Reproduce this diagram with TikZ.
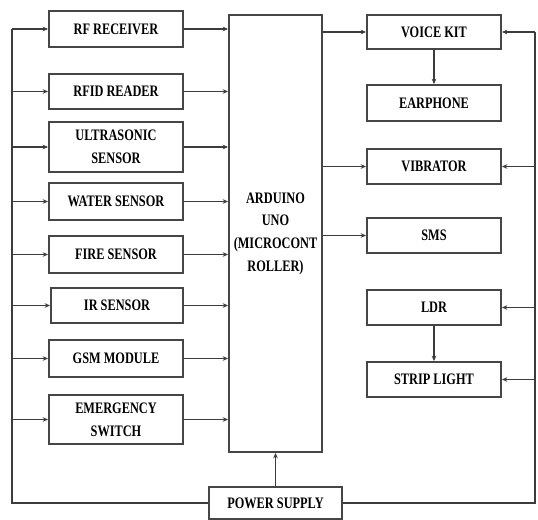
\documentclass[tikz,border=0pt]{standalone}
\usepackage{fontspec}
\setmainfont{Liberation Serif}
\newfontfamily\blockfont{Liberation Serif Bold}[FakeStretch=0.77]
\usepackage{xcolor}
\usepackage{tikz}
\usetikzlibrary{calc,arrows.meta}
\definecolor{edge}{RGB}{60, 60, 60}
\definecolor{frame}{RGB}{70, 70, 70}

\tikzset{
  block/.style={draw=frame, line width=1.5pt, align=center, inner sep=0pt,
    font=\blockfont\fontsize{12}{17}\selectfont},
  wire/.style={draw=edge, line width=1.3pt}
}

\begin{document}
\begin{tikzpicture}[x=0.75pt, y=-0.75pt, >={Stealth[length=4pt,width=3.5pt]}]
  \useasboundingbox (0,0) rectangle (538,520);

  % Input blocks (left column)
  \node[block, minimum width=100.5pt, minimum height=27pt] (rf) at (116, 29) {RF RECEIVER};
  \node[block, minimum width=100.5pt, minimum height=26.25pt] (rfid) at (116, 91.5) {RFID READER};
  \node[block, minimum width=100.5pt, minimum height=37.5pt] (us) at (116, 147) {ULTRASONIC\\SENSOR};
  \node[block, minimum width=100.5pt, minimum height=27.75pt] (water) at (116, 201.5) {WATER SENSOR};
  \node[block, minimum width=100.5pt, minimum height=27.75pt] (fire) at (116, 254.5) {FIRE SENSOR};
  \node[block, minimum width=99pt, minimum height=26.25pt] (ir) at (117, 305.5) {IR SENSOR};
  \node[block, minimum width=100.5pt, minimum height=27.75pt] (gsm) at (116, 358.5) {GSM MODULE};
  \node[block, minimum width=100.5pt, minimum height=36.75pt] (sos) at (116, 419.5) {EMERGENCY\\SWITCH};

  % Controller
  \node[block, minimum width=69.75pt, minimum height=327.75pt] (ard) at (275.5, 233.5) {ARDUINO\\UNO\\(MICROCONT\\ROLLER)};

  % Output blocks (right column)
  \node[block, minimum width=100.5pt, minimum height=25.5pt] (voice) at (434, 32) {VOICE KIT};
  \node[block, minimum width=100.5pt, minimum height=27pt] (ear) at (434, 103) {EARPHONE};
  \node[block, minimum width=100.5pt, minimum height=26.25pt] (vib) at (434, 166.5) {VIBRATOR};
  \node[block, minimum width=100.5pt, minimum height=26.25pt] (sms) at (434, 235.5) {SMS};
  \node[block, minimum width=100.5pt, minimum height=26.25pt] (ldr) at (434, 307.5) {LDR};
  \node[block, minimum width=100.5pt, minimum height=26.25pt] (strip) at (434, 379.5) {STRIP LIGHT};

  % Power supply
  \node[block, minimum width=99.75pt, minimum height=24pt] (pwr) at (275.5, 503) {POWER SUPPLY};

  % Supply rails
  \coordinate (lrail) at (12, 503);
  \coordinate (rrail) at (535, 503);
  \draw[wire] (pwr.west) -- (lrail) -- (lrail |- rf.west);
  \draw[wire] (pwr.east) -- (rrail) -- (rrail |- voice.east);
  \draw[wire, ->] (pwr.north) -- (ard.south);

  % Rail to inputs
  \draw[wire, ->] (lrail |- rf.west) -- (rf.west);
  \draw[wire, ->] (lrail |- rfid.west) -- (rfid.west);
  \draw[wire, ->] (lrail |- us.west) -- (us.west);
  \draw[wire, ->] (lrail |- water.west) -- (water.west);
  \draw[wire, ->] (lrail |- fire.west) -- (fire.west);
  \draw[wire, ->] (lrail |- ir.west) -- (ir.west);
  \draw[wire, ->] (lrail |- gsm.west) -- (gsm.west);
  \draw[wire, ->] (lrail |- sos.west) -- (sos.west);

  % Inputs to controller
  \draw[wire, ->] (rf.east) -- (rf.east -| ard.west);
  \draw[wire, ->] (rfid.east) -- (rfid.east -| ard.west);
  \draw[wire, ->] (us.east) -- (us.east -| ard.west);
  \draw[wire, ->] (water.east) -- (water.east -| ard.west);
  \draw[wire, ->] (fire.east) -- (fire.east -| ard.west);
  \draw[wire, ->] (ir.east) -- (ir.east -| ard.west);
  \draw[wire, ->] (gsm.east) -- (gsm.east -| ard.west);
  \draw[wire, ->] (sos.east) -- (sos.east -| ard.west);

  % Controller to outputs
  \draw[wire, ->] (ard.east |- voice.west) -- (voice.west);
  \draw[wire, ->] (ard.east |- vib.west) -- (vib.west);
  \draw[wire, ->] (ard.east |- sms.west) -- (sms.west);
  \draw[wire, ->] (voice.south) -- (ear.north);
  \draw[wire, ->] (ldr.south) -- (strip.north);

  % Rail to outputs
  \draw[wire, ->] (rrail |- voice.east) -- (voice.east);
  \draw[wire, ->] (rrail |- vib.east) -- (vib.east);
  \draw[wire, ->] (rrail |- ldr.east) -- (ldr.east);
  \draw[wire, ->] (rrail |- strip.east) -- (strip.east);
\end{tikzpicture}
\end{document}
